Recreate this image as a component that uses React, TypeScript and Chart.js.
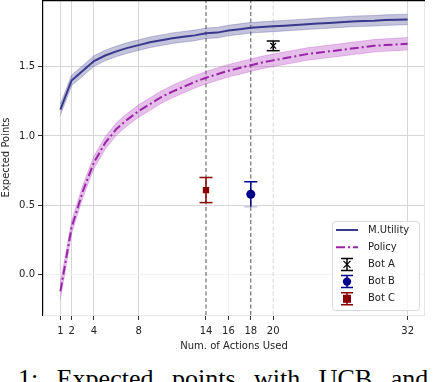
import React, { useEffect, useRef } from "react";
import { Chart, registerables } from "chart.js";

Chart.register(...registerables);

const actions = [1, 2, 3, 4, 5, 6, 7, 8, 9, 10, 11, 12, 13, 14, 15, 16, 17, 18, 19, 20, 21, 22, 23, 24, 25, 26, 27, 28, 29, 30, 31, 32];
const utility = [1.19, 1.40, 1.47, 1.54, 1.58, 1.61, 1.635, 1.655, 1.675, 1.69, 1.705, 1.715, 1.725, 1.74, 1.745, 1.76, 1.77, 1.78, 1.785, 1.79, 1.795, 1.8, 1.805, 1.81, 1.815, 1.82, 1.825, 1.828, 1.83, 1.835, 1.837, 1.84];
const utilitySpread = [0.04, 0.038, 0.038, 0.038, 0.038, 0.038, 0.038, 0.038, 0.038, 0.038, 0.038, 0.038, 0.038, 0.038, 0.038, 0.038, 0.038, 0.038, 0.038, 0.038, 0.038, 0.038, 0.038, 0.038, 0.038, 0.038, 0.038, 0.038, 0.038, 0.038, 0.038, 0.038];
const policy = [-0.12, 0.34, 0.6, 0.81, 0.95, 1.05, 1.12, 1.18, 1.23, 1.28, 1.32, 1.355, 1.39, 1.42, 1.445, 1.47, 1.49, 1.51, 1.53, 1.545, 1.56, 1.575, 1.59, 1.6, 1.61, 1.62, 1.63, 1.64, 1.65, 1.655, 1.66, 1.665];
const policySpread = [0.06, 0.045, 0.045, 0.045, 0.045, 0.045, 0.045, 0.045, 0.045, 0.045, 0.045, 0.045, 0.045, 0.045, 0.045, 0.045, 0.045, 0.045, 0.045, 0.045, 0.045, 0.045, 0.045, 0.045, 0.045, 0.045, 0.045, 0.045, 0.045, 0.045, 0.045, 0.045];

const botNames = ["Bot A", "Bot B", "Bot C"];
const botX = [20, 18, 14];
const botY = [1.65, 0.58, 0.61];
const botLow = [1.615, 0.49, 0.52];
const botHigh = [1.685, 0.67, 0.70];

const xTicks = [1, 2, 4, 8, 14, 16, 18, 20, 32];
const yTicks = [0, 0.5, 1.0, 1.5];
const markedX = [14, 18];
const faintMarkedX = [20];

const X_MIN = -0.55;
const X_MAX = 33.55;
const Y_MIN = -0.29;
const Y_MAX = 1.98;

const UTIL_COLOR = "#38388c";
const UTIL_BAND = "rgba(56,56,140,0.3)";
const POL_COLOR = "#9a24a8";
const POL_BAND = "rgba(180,70,195,0.35)";
const BOT_COLORS = ["#000000", "#00008b", "#8b0000"];
const FONT = "'DejaVu Sans', sans-serif";
const CANVAS_OFFSET = 9;

function pts(ys: number[]) {
  return actions.map((x, i) => ({ x, y: ys[i] }));
}

export default function App() {
  const ref = useRef<HTMLCanvasElement | null>(null);
  useEffect(() => {
    if (!ref.current) return;
    const utilHigh = utility.map((v, i) => v + utilitySpread[i]);
    const utilLow = utility.map((v, i) => v - utilitySpread[i]);
    const polHigh = policy.map((v, i) => v + policySpread[i]);
    const polLow = policy.map((v, i) => v - policySpread[i]);

    const vline = (x: number, color: string) => ({
      label: "v" + x,
      data: [{ x, y: Y_MIN }, { x, y: Y_MAX }],
      borderColor: color,
      borderWidth: 1,
      borderDash: [4, 2.5],
      pointRadius: 0,
      fill: false,
    });

    const styles = ["crossRot", "circle", "rect"];
    const sizes = [4, 4.5, 4.5];

    const errPlugin = {
      id: "errbars",
      afterDatasetsDraw(chart: any) {
        const { ctx } = chart;
        const xs = chart.scales.x;
        const ys = chart.scales.y;
        ctx.save();
        for (let i = 0; i < botX.length; i++) {
          const px = xs.getPixelForValue(botX[i]);
          const pl = ys.getPixelForValue(botLow[i]);
          const ph = ys.getPixelForValue(botHigh[i]);
          ctx.strokeStyle = BOT_COLORS[i];
          ctx.lineWidth = 1.5;
          ctx.beginPath();
          ctx.moveTo(px, pl);
          ctx.lineTo(px, ph);
          ctx.moveTo(px - 6.5, ph);
          ctx.lineTo(px + 6.5, ph);
          ctx.stroke();
          ctx.strokeStyle = i === 1 ? "rgba(0,0,139,0.22)" : BOT_COLORS[i];
          ctx.beginPath();
          ctx.moveTo(px - 6.5, pl);
          ctx.lineTo(px + 6.5, pl);
          ctx.stroke();
        }
        ctx.restore();
      },
    };

    const framePlugin = {
      id: "frame",
      afterDraw(chart: any) {
        const { ctx, chartArea: a } = chart;
        ctx.save();
        ctx.strokeStyle = "#e6e6e6";
        ctx.lineWidth = 1;
        ctx.beginPath();
        ctx.moveTo(a.right - 0.5, a.top);
        ctx.lineTo(a.right - 0.5, a.bottom);
        ctx.moveTo(a.left, a.bottom + 0.5);
        ctx.lineTo(a.right, a.bottom + 0.5);
        ctx.stroke();
        ctx.strokeStyle = "#000";
        ctx.lineWidth = 1.2;
        ctx.beginPath();
        ctx.moveTo(a.left, a.top + 0.6);
        ctx.lineTo(a.right, a.top + 0.6);
        ctx.stroke();

        // legend (canvas is shifted up, so add the offset)
        const off = CANVAS_OFFSET;
        const lx = 332, ly = 221 + off, lw = 87, lh = 89;
        ctx.fillStyle = "rgba(255,255,255,0.85)";
        ctx.strokeStyle = "#d8d8d8";
        ctx.lineWidth = 1;
        ctx.beginPath();
        ctx.roundRect(lx + 0.5, ly + 0.5, lw, lh, 3);
        ctx.fill();
        ctx.stroke();
        const labels = ["M.Utility", "Policy", ...botNames];
        ctx.font = "10px " + FONT;
        ctx.textBaseline = "middle";
        const hx0 = 336, hx1 = 358, hc = 347;
        for (let i = 0; i < labels.length; i++) {
          const y = 230 + off + i * 17.2;
          ctx.fillStyle = "#222";
          ctx.fillText(labels[i], 368, y);
          if (i === 0) {
            ctx.strokeStyle = UTIL_COLOR;
            ctx.lineWidth = 2;
            ctx.setLineDash([]);
            ctx.beginPath(); ctx.moveTo(hx0, y); ctx.lineTo(hx1, y); ctx.stroke();
          } else if (i === 1) {
            ctx.strokeStyle = POL_COLOR;
            ctx.lineWidth = 2;
            ctx.setLineDash([9, 3, 2, 3]);
            ctx.beginPath(); ctx.moveTo(hx0, y); ctx.lineTo(hx1, y); ctx.stroke();
            ctx.setLineDash([]);
          } else {
            const b = i - 2;
            const c = BOT_COLORS[b];
            ctx.strokeStyle = c;
            ctx.lineWidth = 1.5;
            ctx.beginPath();
            ctx.moveTo(hc, y - 6); ctx.lineTo(hc, y + 6);
            ctx.moveTo(hc - 6, y - 6); ctx.lineTo(hc + 6, y - 6);
            ctx.moveTo(hc - 6, y + 6); ctx.lineTo(hc + 6, y + 6);
            ctx.stroke();
            ctx.fillStyle = c;
            if (b === 0) {
              ctx.lineWidth = 1.3;
              ctx.beginPath();
              ctx.moveTo(hc - 3.5, y - 3.5); ctx.lineTo(hc + 3.5, y + 3.5);
              ctx.moveTo(hc + 3.5, y - 3.5); ctx.lineTo(hc - 3.5, y + 3.5);
              ctx.stroke();
            } else if (b === 1) {
              ctx.beginPath(); ctx.arc(hc, y, 4.2, 0, Math.PI * 2); ctx.fill();
            } else {
              ctx.fillRect(hc - 4, y - 4, 8, 8);
            }
          }
        }
        ctx.restore();
      },
    };

    const chart = new Chart(ref.current, {
      type: "line",
      data: {
        datasets: [
          ...botNames.map((n, i) => ({
            label: n,
            data: [{ x: botX[i], y: botY[i] }],
            showLine: false,
            pointStyle: styles[i],
            pointRadius: sizes[i],
            pointBackgroundColor: BOT_COLORS[i],
            pointBorderColor: BOT_COLORS[i],
            pointBorderWidth: i === 0 ? 1.3 : 0,
          })),
          {
            label: "M.Utility",
            data: pts(utility),
            borderColor: UTIL_COLOR,
            borderWidth: 2,
            pointRadius: 0,
            tension: 0,
            fill: false,
          },
          {
            label: "Policy",
            data: pts(policy),
            borderColor: POL_COLOR,
            borderWidth: 2,
            borderDash: [9, 3, 2, 3],
            pointRadius: 0,
            tension: 0,
            fill: false,
          },
          {
            label: "uh",
            data: pts(utilHigh),
            borderColor: "rgba(56,56,140,0.35)",
            borderWidth: 0.8,
            pointRadius: 0,
            backgroundColor: UTIL_BAND,
            fill: "+1",
          },
          {
            label: "ul",
            data: pts(utilLow),
            borderColor: "rgba(56,56,140,0.35)",
            borderWidth: 0.8,
            pointRadius: 0,
            fill: false,
          },
          {
            label: "ph",
            data: pts(polHigh),
            borderColor: "rgba(170,60,190,0.35)",
            borderWidth: 0.8,
            pointRadius: 0,
            backgroundColor: POL_BAND,
            fill: "+1",
          },
          {
            label: "pl",
            data: pts(polLow),
            borderColor: "rgba(170,60,190,0.35)",
            borderWidth: 0.8,
            pointRadius: 0,
            fill: false,
          },
          ...markedX.map((x) => vline(x, "#555555")),
          ...faintMarkedX.map((x) => vline(x, "#d6d6d6")),
        ] as any,
      },
      options: {
        animation: false,
        responsive: false,
        maintainAspectRatio: false,
        layout: { padding: { left: 0, right: 21, top: 0, bottom: 0 } },
        plugins: { legend: { display: false }, tooltip: { enabled: false } },
        scales: {
          x: {
            type: "linear",
            min: X_MIN,
            max: X_MAX,
            afterBuildTicks: (s: any) => {
              s.ticks = xTicks.map((v) => ({ value: v }));
            },
            afterFit: (s: any) => {
              s.height = 37;
            },
            grid: {
              color: (c: any) => {
                const v = c.tick ? c.tick.value : null;
                if (v === 16) return "#f1f1f1";
                if (v === 14 || v === 18 || v === 20) return "rgba(0,0,0,0)";
                return "#d6d6d6";
              },
              lineWidth: 1,
              tickColor: "#333",
              tickLength: 5,
              drawTicks: true,
            },
            border: { display: false },
            ticks: {
              autoSkip: false,
              maxRotation: 0,
              padding: 5,
              color: "#222",
              font: { family: FONT, size: 10 },
              callback: (v: any) => String(v),
            },
            title: {
              display: true,
              text: "Num. of Actions Used",
              color: "#222",
              font: { family: FONT, size: 10 },
              padding: { top: 1, bottom: 0 },
            },
          },
          y: {
            type: "linear",
            min: Y_MIN,
            max: Y_MAX,
            afterBuildTicks: (s: any) => {
              s.ticks = yTicks.map((v) => ({ value: v }));
            },
            afterFit: (s: any) => {
              s.width = 43;
            },
            grid: {
              color: (c: any) => (c.tick && c.tick.value === 0 ? "#f3f3f3" : "#d6d6d6"),
              lineWidth: 1,
              tickColor: "#333",
              tickLength: 5,
            },
            border: { display: true, color: "#000", width: 1.2 },
            ticks: {
              padding: 3,
              color: "#222",
              font: { family: FONT, size: 10 },
              callback: (v: any) => Number(v).toFixed(1),
            },
            title: {
              display: true,
              text: "Expected Points",
              color: "#222",
              font: { family: FONT, size: 10 },
              padding: { top: 0, bottom: 2 },
            },
          },
        },
      },
      plugins: [errPlugin, framePlugin],
    });
    return () => chart.destroy();
  }, []);

  return (
    <div style={{ position: "fixed", left: 0, top: 0, width: 446, height: 382, overflow: "hidden", background: "#fff" }}>
      <canvas ref={ref} width={446} height={361} style={{ position: "absolute", left: 0, top: -CANVAS_OFFSET, width: 446, height: 361 }} />
      <div
        style={{
          position: "absolute",
          left: 18,
          top: 364,
          whiteSpace: "nowrap",
          fontFamily: "'Liberation Serif', serif",
          fontSize: 26,
          lineHeight: "30px",
          wordSpacing: 12,
          color: "#000",
        }}
      >
        1:  Expected points with UCB and
      </div>
    </div>
  );
}
